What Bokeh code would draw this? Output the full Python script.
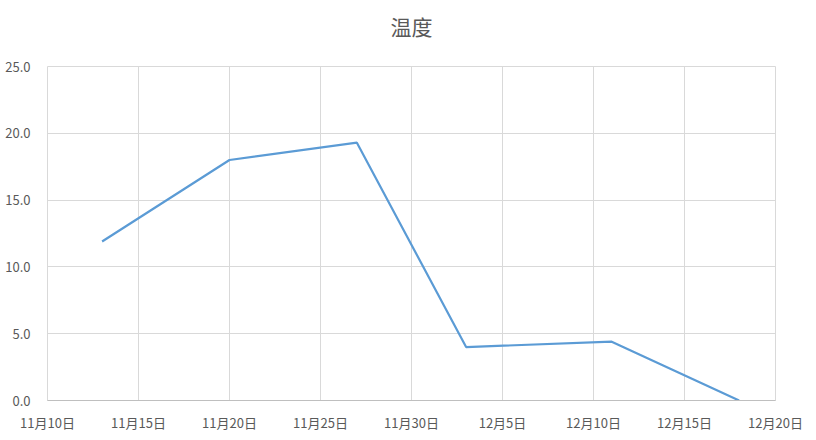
from datetime import datetime
from bokeh.plotting import figure
from bokeh.models import FixedTicker, CustomJSTickFormatter, NumeralTickFormatter, Range1d, ColumnDataSource, Title
from bokeh.embed import file_html
from bokeh.resources import INLINE

# data
dates = ["2023-11-13", "2023-11-20", "2023-11-27", "2023-12-03", "2023-12-11", "2023-12-18"]
temps = [11.9, 18.0, 19.3, 4.0, 4.4, 0.0]
x_ticks = ["2023-11-10", "2023-11-15", "2023-11-20", "2023-11-25", "2023-11-30",
           "2023-12-05", "2023-12-10", "2023-12-15", "2023-12-20"]
y_ticks = [0, 5, 10, 15, 20, 25]
title_text = "温度"

def to_ms(s):
    d = datetime.strptime(s, "%Y-%m-%d")
    return (d - datetime(1970, 1, 1)).total_seconds() * 1000.0

xs = [to_ms(d) for d in dates]
xt = [to_ms(d) for d in x_ticks]

p = figure(width=816, height=440, output_backend="svg", toolbar_location=None,
           x_axis_type="datetime", title=None,
           x_range=Range1d(xt[0], xt[-1]), y_range=Range1d(y_ticks[0], y_ticks[-1]),
           min_border_left=47, min_border_right=41, min_border_top=66, min_border_bottom=40)

# spacer below the title (closest to the frame)
spacer = Title(text=" ", text_font_size="8px", standoff=11, text_color="white")
p.add_layout(spacer, "above")
main_title = Title(text=title_text, align="center", text_font="Noto Sans CJK SC",
                   text_font_size="21px", text_font_style="normal", text_color="#595959",
                   offset=0, standoff=8)
p.add_layout(main_title, "above")

src = ColumnDataSource(dict(x=xs, y=temps))
p.line("x", "y", source=src, line_color="#5b9bd5", line_width=2.2)

p.xaxis.ticker = FixedTicker(ticks=xt)
p.xaxis.formatter = CustomJSTickFormatter(code="""
const d = new Date(tick);
return (d.getUTCMonth()+1) + "月" + d.getUTCDate() + "日";
""")
p.yaxis.ticker = FixedTicker(ticks=y_ticks)
p.yaxis.formatter = NumeralTickFormatter(format="0.0")

for ax in (p.xaxis, p.yaxis):
    ax.major_tick_line_color = None
    ax.minor_tick_line_color = None
    ax.major_label_text_font = "Noto Sans CJK SC"
    ax.major_label_text_font_size = "13px"
    ax.major_label_text_color = "#595959"
p.yaxis.axis_line_color = None
p.yaxis.major_label_standoff = 11
p.xaxis.axis_line_color = "#bfbfbf"
p.xaxis.axis_line_width = 1
p.xaxis.major_label_standoff = 6

p.xgrid.ticker = FixedTicker(ticks=xt)
p.ygrid.ticker = FixedTicker(ticks=y_ticks)
p.grid.grid_line_color = "#d9d9d9"
p.grid.grid_line_width = 1
p.outline_line_color = "#d9d9d9"
p.background_fill_color = "white"
p.border_fill_color = "white"

open("out.html", "w").write(file_html(p, INLINE))
